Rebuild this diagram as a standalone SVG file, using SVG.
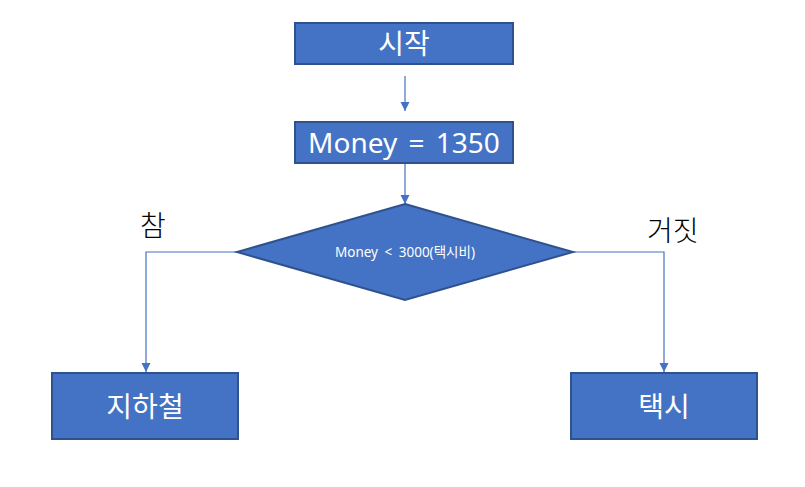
<svg xmlns="http://www.w3.org/2000/svg" width="805" height="487" viewBox="0 0 805 487">
<style>
.box{fill:#4472C4;stroke:#2F528F;stroke-width:2}
.lbl{fill:#ffffff;font-family:"Noto Sans","Noto Sans CJK KR",sans-serif;font-size:28px;text-anchor:middle}
.small{fill:#ffffff;font-family:"Noto Sans","Noto Sans CJK KR",sans-serif;font-size:13.5px;text-anchor:middle;word-spacing:3px}
.side{fill:#000000;font-family:"Noto Sans CJK KR","Noto Sans",sans-serif;font-size:28px;font-weight:300}
.con{fill:none;stroke:#4472C4;stroke-width:1.2}
</style>
<defs>
<marker id="arr" markerWidth="10" markerHeight="10" refX="9" refY="4.5" orient="auto" markerUnits="userSpaceOnUse">
<path d="M0,0 L9,4.5 L0,9 Z" fill="#4472C4"/>
</marker>
</defs>
<rect width="805" height="487" fill="#ffffff"/>
<g id="connectors">
<line class="con" x1="405" y1="76" x2="405" y2="111" marker-end="url(#arr)"/>
<line class="con" x1="405" y1="164" x2="405" y2="204" marker-end="url(#arr)"/>
<polyline class="con" points="237,252 146,252 146,372" marker-end="url(#arr)"/>
<polyline class="con" points="573,252 664,252 664,372" marker-end="url(#arr)"/>
</g>
<g id="start">
<rect class="box" x="295" y="23" width="218" height="41"/>
<text class="lbl" x="404" y="54">시작</text>
</g>
<g id="money">
<rect class="box" x="295" y="122" width="218" height="41"/>
<text class="lbl" x="404" y="153" style="word-spacing:4px">Money = 1350</text>
</g>
<g id="decision">
<polygon class="box" points="405,204 573,252 405,300 237,252"/>
<text class="small" x="405" y="257">Money &lt; 3000(택시비)</text>
</g>
<g id="subway">
<rect class="box" x="52" y="373" width="186" height="66"/>
<text class="lbl" x="145" y="417">지하철</text>
</g>
<g id="taxi">
<rect class="box" x="571" y="373" width="186" height="66"/>
<text class="lbl" x="664" y="417">택시</text>
</g>
<g id="labels">
<text class="side" x="140" y="236">참</text>
<text class="side" x="647" y="241">거짓</text>
</g>
</svg>
